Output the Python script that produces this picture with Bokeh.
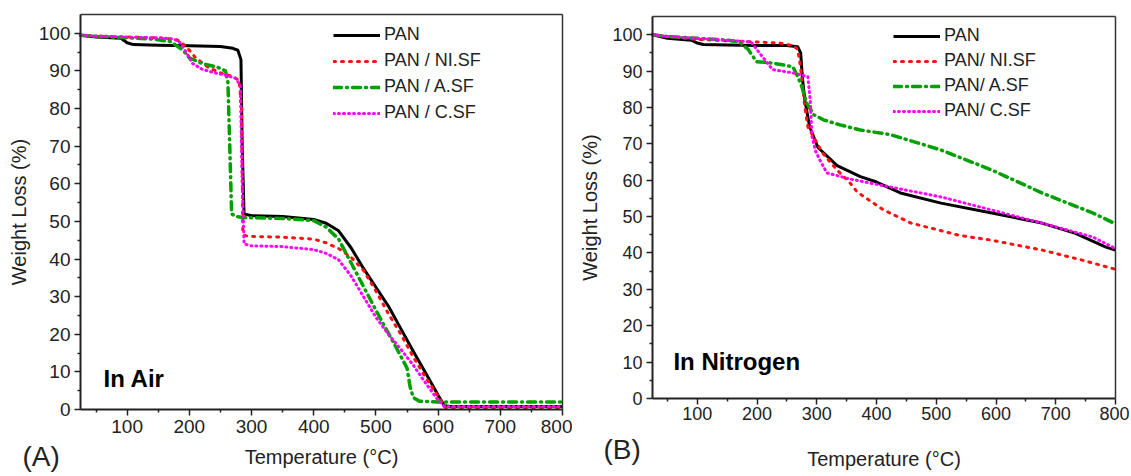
from bokeh.plotting import figure
from bokeh.layouts import row
from bokeh.models import (Legend, LegendItem, Label, LinearAxis, FixedTicker, Range1d)
from bokeh.embed import file_html
from bokeh.resources import INLINE

# ---------------- data: (A) In Air ----------------
air_pan_t = [25, 50, 90, 100, 110, 150, 200, 250, 270, 278, 283, 285, 288, 300, 350, 400, 420, 440, 460, 480, 500, 520, 540, 560, 580, 600, 610, 620, 700, 800]
air_pan_w = [99.5, 99, 98.7, 97.5, 97, 96.8, 96.7, 96.5, 96, 95.5, 93, 70, 52, 51.5, 51.3, 50.5, 49.5, 47.5, 43, 37.5, 32.5, 27.5, 21.5, 15.5, 9.7, 3.8, 1, 0.8, 0.8, 0.8]

air_ni_t = [25, 50, 100, 150, 180, 195, 210, 230, 250, 270, 280, 284, 286, 290, 300, 350, 400, 420, 440, 460, 480, 500, 520, 540, 560, 580, 600, 612, 700, 800]
air_ni_w = [99.5, 99.2, 99, 98.8, 98.3, 96.5, 93.5, 91, 89.5, 88.5, 87.5, 80, 47, 46.2, 46, 45.8, 45.3, 44.3, 42.8, 40.5, 37, 31.5, 25.5, 20, 14, 8.5, 3.5, 0.5, 0.5, 0.5]

air_a_t = [25, 50, 100, 140, 170, 190, 200, 220, 245, 258, 262, 265, 268, 275, 290, 350, 400, 420, 440, 460, 480, 500, 520, 540, 550, 555, 560, 570, 600, 700, 800]
air_a_w = [99.5, 99.2, 98.8, 98.5, 97.8, 95.5, 93.5, 92, 91, 90, 87, 70, 52, 51.3, 51, 50.8, 50.2, 48.5, 45.3, 39, 32.7, 26.4, 20.3, 14.2, 11, 6, 3.2, 2.2, 2, 2, 2]

air_c_t = [25, 50, 100, 150, 175, 185, 195, 205, 220, 240, 260, 275, 282, 285, 288, 300, 350, 400, 420, 440, 460, 480, 500, 520, 540, 560, 580, 600, 610, 700, 800]
air_c_w = [99.5, 99.3, 99, 98.8, 98.5, 97.5, 95, 92, 90.5, 89.5, 88.8, 88, 86, 60, 44, 43.5, 43.3, 42.5, 41.5, 39.8, 35.5, 30, 24.5, 20, 16, 11.8, 7, 2.5, 0.8, 0.8, 0.8]

# ---------------- data: (B) In Nitrogen ----------------
n2_pan_t = [25, 50, 90, 100, 110, 150, 200, 250, 268, 273, 276, 280, 288, 302, 334, 373, 400, 440, 508, 593, 677, 733, 784, 800]
n2_pan_w = [100, 99, 98.5, 97.7, 97.3, 97.2, 97, 97, 96.7, 95, 88, 82, 74.7, 69, 64, 61, 59.5, 56.5, 53.7, 51, 48.2, 45.4, 41.6, 40.8]

n2_ni_t = [25, 50, 100, 150, 200, 238, 260, 268, 272, 275, 280, 285, 310, 334, 356, 368, 412, 458, 537, 593, 677, 745, 800]
n2_ni_w = [100, 99.5, 98.7, 98.3, 98, 97.7, 97, 96, 92, 88, 80, 74.7, 67.4, 62.8, 59.2, 56.7, 51.8, 48.2, 44.9, 43.5, 40.8, 38, 35.5]

n2_a_t = [25, 50, 100, 150, 170, 185, 199, 226, 260, 268, 275, 283, 295, 311, 339, 373, 424, 508, 593, 677, 762, 800]
n2_a_w = [100, 99.5, 99, 98.5, 98, 96, 92.6, 92.2, 91.2, 88.5, 85.7, 81.2, 78, 76.6, 75.2, 73.8, 72.5, 68.3, 62.8, 56.5, 51, 48]

n2_c_t = [25, 50, 100, 150, 190, 204, 226, 260, 285, 289, 292, 298, 305, 317, 356, 424, 508, 593, 677, 762, 800]
n2_c_w = [100, 99.5, 99, 98.5, 98, 95, 90.4, 89.5, 88.5, 82, 72, 68, 65.6, 62, 60.3, 58.1, 55.4, 51.8, 48.2, 44.4, 41.2]

labels_air = ["PAN", "PAN / NI.SF", "PAN / A.SF", "PAN / C.SF"]
labels_n2 = ["PAN", "PAN/ NI.SF", "PAN/ A.SF", "PAN/ C.SF"]

x_major = [100, 200, 300, 400, 500, 600, 700, 800]
x_minor = [50, 150, 250, 350, 450, 550, 650, 750]
y_major = [0, 10, 20, 30, 40, 50, 60, 70, 80, 90, 100]
y_minor = [5, 15, 25, 35, 45, 55, 65, 75, 85, 95]

X_MIN, X_MAX, Y_MIN, Y_MAX = 25, 800, 0, 105

FONT = "Liberation Sans"
INK = "#222222"

STYLES = [
    dict(line_color="black", line_width=3),
    dict(line_color="#ff1010", line_width=3, line_dash="2 6", line_cap="round"),
    dict(line_color="#00a000", line_width=3.5, line_dash="8 5 1 5", line_cap="round"),
    dict(line_color="#ff00ff", line_width=3, line_dash="1 4", line_cap="round"),
]


def make_panel(width, height, box, series, labels, legend_loc, legend_spacing,
               inner_text, inner_xy, tag, tag_xy, tick_font, xlab_offsets, ylab_offsets):
    # box = (left, top, right, bottom) pixel position of the plot box inside the canvas
    bl, bt, br, bb = box
    ax_ = (X_MAX - X_MIN) / (br - bl)
    ay_ = (Y_MAX - Y_MIN) / (bb - bt)
    xr = Range1d(X_MIN - bl * ax_, X_MAX + (width - br) * ax_)
    yr = Range1d(Y_MIN - (height - bb) * ay_, Y_MAX + bt * ay_)

    p = figure(width=width, height=height, output_backend="svg", toolbar_location=None,
               x_range=xr, y_range=yr, x_axis_location=None, y_axis_location=None,
               min_border_left=0, min_border_right=0, min_border_top=0, min_border_bottom=0)
    p.grid.visible = False
    p.outline_line_color = None
    p.background_fill_color = "white"
    p.border_fill_color = "white"

    xa = LinearAxis(fixed_location=Y_MIN, bounds=(X_MIN, X_MAX),
                    ticker=FixedTicker(ticks=x_major, minor_ticks=x_minor),
                    axis_label="Temperature (°C)")
    ya = LinearAxis(fixed_location=X_MIN, bounds=(Y_MIN, Y_MAX),
                    ticker=FixedTicker(ticks=y_major, minor_ticks=y_minor),
                    axis_label="Weight Loss (%)")
    for ax, (ls, als) in ((xa, xlab_offsets), (ya, ylab_offsets)):
        ax.axis_line_width = 2
        ax.axis_line_color = INK
        ax.major_tick_in = 0
        ax.major_tick_out = 6
        ax.minor_tick_in = 0
        ax.minor_tick_out = 3
        ax.major_tick_line_width = 1.5
        ax.minor_tick_line_width = 1.5
        ax.major_tick_line_color = INK
        ax.minor_tick_line_color = INK
        ax.major_label_text_font = FONT
        ax.major_label_text_font_size = tick_font
        ax.major_label_text_color = INK
        ax.major_label_standoff = ls
        ax.axis_label_text_font = FONT
        ax.axis_label_text_font_size = "20px"
        ax.axis_label_text_font_style = "normal"
        ax.axis_label_text_color = INK
        ax.axis_label_standoff = als
    p.add_layout(xa, "below")
    p.add_layout(ya, "left")

    # top and right edges of the plot box
    ta = LinearAxis(fixed_location=Y_MAX, bounds=(X_MIN, X_MAX),
                    ticker=FixedTicker(ticks=[], minor_ticks=[]))
    ra = LinearAxis(fixed_location=X_MAX, bounds=(Y_MIN, Y_MAX),
                    ticker=FixedTicker(ticks=[], minor_ticks=[]))
    for ax in (ta, ra):
        ax.axis_line_width = 1.5
        ax.axis_line_color = "#333333"
        ax.major_tick_out = 0
        ax.minor_tick_out = 0
    p.add_layout(ta, "above")
    p.add_layout(ra, "right")

    items = []
    for (t, w), lab, st in zip(series, labels, STYLES):
        r = p.line(t, w, line_join="round", **st)
        items.append(LegendItem(label=lab, renderers=[r]))

    legend = Legend(items=items, location=legend_loc, padding=0, margin=0,
                    spacing=legend_spacing, glyph_width=47, glyph_height=20,
                    label_height=20, label_standoff=4,
                    label_text_font=FONT, label_text_font_size="18px",
                    label_text_color=INK,
                    border_line_alpha=0, background_fill_alpha=0)
    p.add_layout(legend)

    p.add_layout(Label(x=inner_xy[0], y=inner_xy[1], text=inner_text,
                       text_font=FONT, text_font_size="24px", text_font_style="bold",
                       text_color="black", text_baseline="alphabetic"))
    p.add_layout(Label(x=tag_xy[0], y=tag_xy[1], x_units="screen", y_units="screen",
                       text=tag, text_font=FONT, text_font_size="28px",
                       text_color=INK, text_baseline="alphabetic"))
    return p


H = 474
pA = make_panel(572, H, (80, 14, 562, 409),
                [(air_pan_t, air_pan_w), (air_ni_t, air_ni_w), (air_a_t, air_a_w), (air_c_t, air_c_w)],
                labels_air, (333, H - 123), 5, "In Air", (62, 8.2), "(A)", (22, 18),
                "19px", (4, 10), (4, 6))

pB = make_panel(557, H, (80, 16, 543, 398),
                [(n2_pan_t, n2_pan_w), (n2_ni_t, n2_ni_w), (n2_a_t, n2_a_w), (n2_c_t, n2_c_w)],
                labels_n2, (321, H - 121), 4, "In Nitrogen", (60, 10.2), "(B)", (31, 25),
                "18px", (2, 25), (4, 8))

layout = row(pA, pB)
open("out.html", "w").write(file_html(layout, INLINE))
